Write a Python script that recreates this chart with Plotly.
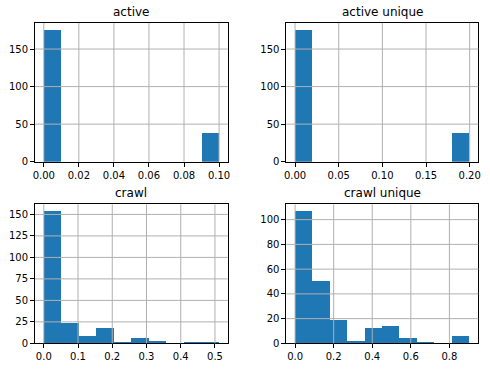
import numpy as np
import plotly.graph_objects as go

# ---- data ----
titles = ["active", "active unique", "crawl", "crawl unique"]
counts_active = [176, 0, 0, 0, 0, 0, 0, 0, 0, 38]
counts_active_unique = [176, 0, 0, 0, 0, 0, 0, 0, 0, 38]
counts_crawl = [154, 23, 8, 18, 1, 6, 2, 0, 1, 1]
counts_crawl_unique = [107, 50, 19, 2, 12, 14, 4, 1, 0, 6]
data_min = [0.0, 0.0, 0.0, 0.0]
data_max = [0.10, 0.20, 0.512, 0.905]
xticks_active = [0.00, 0.02, 0.04, 0.06, 0.08, 0.10]
xticks_active_unique = [0.00, 0.05, 0.10, 0.15, 0.20]
xticks_crawl = [0.0, 0.1, 0.2, 0.3, 0.4, 0.5]
xticks_crawl_unique = [0.0, 0.2, 0.4, 0.6, 0.8]
xtick_fmt = ["{:.2f}", "{:.2f}", "{:.1f}", "{:.1f}"]
yticks_active = [0, 50, 100, 150]
yticks_active_unique = [0, 50, 100, 150]
yticks_crawl = [0, 25, 50, 75, 100, 125, 150]
yticks_crawl_unique = [0, 20, 40, 60, 80, 100]

all_counts = [counts_active, counts_active_unique, counts_crawl, counts_crawl_unique]
all_xt = [xticks_active, xticks_active_unique, xticks_crawl, xticks_crawl_unique]
all_yt = [yticks_active, yticks_active_unique, yticks_crawl, yticks_crawl_unique]

W, H = 490, 373
xdoms = [(33.3 / W, 227.7 / W), (286.7 / W, 480.3 / W)]
ydoms = [(1 - 164.3 / H, 1 - 23.3 / H), (1 - 349.0 / H, 1 - 207.7 / H)]

BAR = "#1f77b4"
GRID = "#b0b0b0"
FONT = "DejaVu Sans"

fig = go.Figure()
shapes = []
annotations = []
layout = {}

for i in range(4):
    r, c = divmod(i, 2)
    ax = "" if i == 0 else str(i + 1)
    counts = all_counts[i]
    nb = len(counts)
    edges = np.linspace(data_min[i], data_max[i], nb + 1)
    centers = (edges[:-1] + edges[1:]) / 2
    bw = edges[1] - edges[0]
    fig.add_trace(go.Bar(
        x=centers, y=counts, width=bw,
        marker=dict(color=BAR, line=dict(width=0)),
        xaxis="x" + ax, yaxis="y" + ax, showlegend=False, hoverinfo="skip",
    ))
    span = data_max[i] - data_min[i]
    xr = [data_min[i] - 0.05 * span, data_max[i] + 0.05 * span]
    yr = [0, max(counts) * 1.05]
    common = dict(
        showgrid=False, zeroline=False, showline=True, linecolor="black",
        linewidth=1, mirror=True, ticks="outside", ticklen=4, tickwidth=1,
        tickcolor="black", tickfont=dict(family=FONT, size=10, color="black"),
    )
    layout["xaxis" + ax] = dict(
        domain=list(xdoms[c]), range=xr, anchor="y" + ax,
        tickvals=all_xt[i], ticktext=[xtick_fmt[i].format(v) for v in all_xt[i]],
        **common)
    layout["yaxis" + ax] = dict(
        domain=list(ydoms[r]), range=yr, anchor="x" + ax,
        tickvals=all_yt[i], ticktext=[str(v) for v in all_yt[i]],
        **common)
    # grid lines drawn above the bars (as matplotlib does)
    for v in all_xt[i]:
        if xr[0] < v < xr[1]:
            shapes.append(dict(type="line", xref="x" + ax, yref="y" + ax + " domain",
                               x0=v, x1=v, y0=0, y1=1, layer="above",
                               line=dict(color=GRID, width=1)))
    for v in all_yt[i]:
        if yr[0] < v < yr[1]:
            shapes.append(dict(type="line", xref="x" + ax + " domain", yref="y" + ax,
                               x0=0, x1=1, y0=v, y1=v, layer="above",
                               line=dict(color=GRID, width=1)))
    annotations.append(dict(
        text=titles[i], xref="paper", yref="paper",
        x=(xdoms[c][0] + xdoms[c][1]) / 2, y=ydoms[r][1],
        xanchor="center", yanchor="bottom", yshift=2, showarrow=False,
        font=dict(family=FONT, size=12, color="black"),
    ))

fig.update_layout(
    width=W, height=H, margin=dict(l=0, r=0, t=0, b=0),
    paper_bgcolor="white", plot_bgcolor="white",
    bargap=0, shapes=shapes, annotations=annotations, **layout,
)

fig.write_html("out.html")
